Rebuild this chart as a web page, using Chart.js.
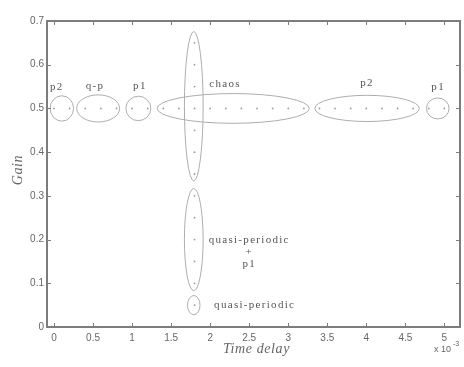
<!DOCTYPE html>
<html>
<head>
<meta charset="utf-8">
<script src="https://cdn.jsdelivr.net/npm/chart.js@4"></script>
<style>
  html, body { margin: 0; padding: 0; background: #fff; }
  #wrap { width: 464px; height: 367px; }
</style>
</head>
<body>
<div id="wrap"><canvas id="c" width="464" height="367"></canvas></div>
<script>
// ---- data ----
const xTicks = [0, 0.5, 1, 1.5, 2, 2.5, 3, 3.5, 4, 4.5, 5];
const yTicks = [0, 0.1, 0.2, 0.3, 0.4, 0.5, 0.6, 0.7];

// simulation points along Gain = 0.5 (time delay in units of 1e-3)
const rowDelay = [0, 0.2, 0.4, 0.6, 0.8, 1.0, 1.2, 1.4, 1.6, 1.8, 2.0, 2.2, 2.4, 2.6, 2.8, 3.0, 3.2,
                  3.4, 3.6, 3.8, 4.0, 4.2, 4.4, 4.6, 4.8, 5.0];
const rowGain = 0.5;
// simulation points along delay = 1.8
const colGain = [0.65, 0.6, 0.55, 0.45, 0.4, 0.35, 0.3, 0.25, 0.2, 0.15, 0.1, 0.05];
const colDelay = 1.8;

// regime ellipses (centre and half-extents in data units)
const ellCx = [0.1, 0.565, 1.08, 2.295, 4.01, 4.915, 1.79, 1.79, 1.79];
const ellCy = [0.5, 0.5, 0.5, 0.5, 0.5, 0.5, 0.505, 0.2, 0.05];
const ellRx = [0.15, 0.275, 0.16, 0.975, 0.67, 0.145, 0.12, 0.12, 0.08];
const ellRy = [0.029, 0.031, 0.028, 0.034, 0.03, 0.024, 0.171, 0.117, 0.022];

// regime labels
const labelText = ['p2', 'q-p', 'p1', 'chaos', 'p2', 'p1', 'quasi-periodic', '+', 'p1', 'quasi-periodic'];
const labelX = [0.035, 0.524, 1.10, 2.19, 4.01, 4.92, 2.50, 2.50, 2.50, 2.57];
const labelY = [0.549, 0.551, 0.551, 0.555, 0.558, 0.549, 0.198, 0.171, 0.1445, 0.049];

const xTitle = 'Time delay';
const yTitle = 'Gain';

// ---- build ----
const points = rowDelay.map(x => ({ x, y: rowGain }))
  .concat(colGain.map(y => ({ x: colDelay, y })));

const AXIS = '#7c7c7c';
const TXT = '#555';

const decor = {
  id: 'decor',
  beforeDatasetsDraw(chart) {
    const { ctx, scales: { x, y } } = chart;
    ctx.save();
    ctx.strokeStyle = '#adadad';
    ctx.lineWidth = 1;
    for (let i = 0; i < ellCx.length; i++) {
      const cx = x.getPixelForValue(ellCx[i]);
      const cy = y.getPixelForValue(ellCy[i]);
      const rx = Math.abs(x.getPixelForValue(ellCx[i] + ellRx[i]) - cx);
      const ry = Math.abs(y.getPixelForValue(ellCy[i] + ellRy[i]) - cy);
      ctx.beginPath();
      ctx.ellipse(cx, cy, rx, ry, 0, 0, Math.PI * 2);
      ctx.stroke();
    }
    ctx.restore();
  },
  afterDraw(chart) {
    const { ctx, chartArea: a, scales: { x, y } } = chart;
    ctx.save();
    // box
    ctx.strokeStyle = AXIS;
    ctx.lineWidth = 2;
    ctx.strokeRect(a.left, a.top, a.right - a.left, a.bottom - a.top);
    // inward ticks
    ctx.lineWidth = 1;
    const tl = 4;
    xTicks.forEach(v => {
      const px = Math.round(x.getPixelForValue(v)) + 0.5;
      ctx.beginPath();
      ctx.moveTo(px, a.bottom); ctx.lineTo(px, a.bottom - tl);
      ctx.moveTo(px, a.top); ctx.lineTo(px, a.top + tl);
      ctx.stroke();
    });
    yTicks.forEach(v => {
      const py = Math.round(y.getPixelForValue(v)) + 0.5;
      ctx.beginPath();
      ctx.moveTo(a.left, py); ctx.lineTo(a.left + tl, py);
      ctx.moveTo(a.right, py); ctx.lineTo(a.right - tl, py);
      ctx.stroke();
    });
    // labels
    ctx.fillStyle = TXT;
    ctx.textAlign = 'center';
    ctx.textBaseline = 'middle';
    ctx.font = '11px "Liberation Serif"';
    ctx.letterSpacing = '1.3px';
    for (let i = 0; i < labelText.length; i++) {
      ctx.fillText(labelText[i], x.getPixelForValue(labelX[i]), y.getPixelForValue(labelY[i]));
    }
    ctx.letterSpacing = '0px';
    // axis titles
    ctx.fillStyle = '#666';
    ctx.font = 'italic 14px "Liberation Serif"';
    ctx.letterSpacing = '0.6px';
    ctx.fillText(xTitle, (a.left + a.right) / 2 + 3, a.bottom + 22);
    ctx.save();
    ctx.translate(18, 170);
    ctx.rotate(-Math.PI / 2);
    ctx.fillText(yTitle, 0, 0);
    ctx.restore();
    ctx.letterSpacing = '0px';
    // exponent
    ctx.font = '9px "Liberation Sans"';
    ctx.textAlign = 'left';
    ctx.fillText('x 10', a.right - 26, a.bottom + 23);
    ctx.font = '7px "Liberation Sans"';
    ctx.fillText('-3', a.right - 7, a.bottom + 17);
    ctx.restore();
  }
};

new Chart(document.getElementById('c'), {
  type: 'scatter',
  data: {
    datasets: [{
      data: points,
      pointRadius: 0.9,
      pointHoverRadius: 0.9,
      pointBackgroundColor: '#999',
      pointBorderWidth: 0,
      showLine: false
    }]
  },
  options: {
    responsive: false,
    animation: false,
    events: [],
    layout: { padding: { left: 0, top: 21, right: 4, bottom: 0 } },
    plugins: { legend: { display: false }, tooltip: { enabled: false } },
    scales: {
      x: {
        type: 'linear',
        min: -0.09,
        max: 5.2,
        afterBuildTicks: s => { s.ticks = xTicks.map(v => ({ value: v })); },
        afterFit: s => { s.height = 40; },
        grid: { display: false, drawTicks: false },
        border: { display: false },
        ticks: {
          padding: 5,
          color: '#666',
          font: { family: 'Liberation Sans', size: 10 },
          maxRotation: 0,
          callback: v => String(v)
        }
      },
      y: {
        type: 'linear',
        min: 0,
        max: 0.7,
        afterBuildTicks: s => { s.ticks = yTicks.map(v => ({ value: v })); },
        afterFit: s => { s.width = 47; },
        grid: { display: false, drawTicks: false },
        border: { display: false },
        ticks: {
          padding: 3,
          color: '#666',
          font: { family: 'Liberation Sans', size: 10 },
          callback: v => String(Math.round(v * 10) / 10)
        }
      }
    }
  },
  plugins: [decor]
});
</script>
</body>
</html>
